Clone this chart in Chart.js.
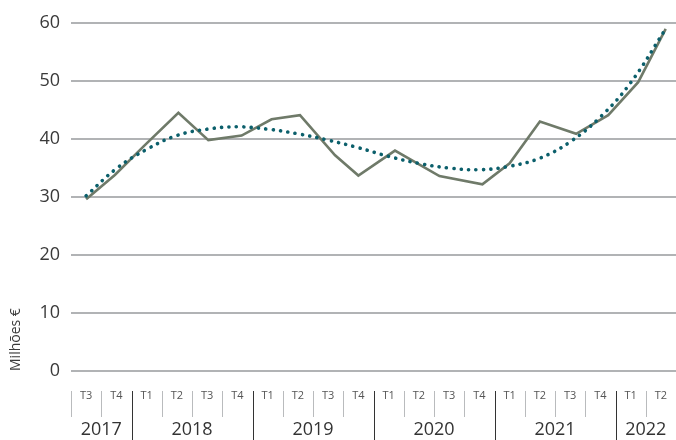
<!DOCTYPE html>
<html>
<head>
<meta charset="utf-8">
<script src="https://cdn.jsdelivr.net/npm/chart.js@4"></script>
<style>
  html, body { margin: 0; padding: 0; background: #fff; }
  #wrap { width: 676px; height: 440px; }
</style>
</head>
<body>
<div id="wrap"><canvas id="salesChart" width="676" height="440"></canvas></div>
<script>
// Quarter labels along the x axis and the years they belong to
const quarterLabels = ['T3', 'T4', 'T1', 'T2', 'T3', 'T4', 'T1', 'T2', 'T3', 'T4',
                       'T1', 'T2', 'T3', 'T4', 'T1', 'T2', 'T3', 'T4', 'T1', 'T2'];
const yearLabels = ['2017', '2018', '2019', '2020', '2021', '2022'];
const quartersPerYear = [2, 4, 4, 4, 4, 2];

// Solid series (position in quarters, value in millions)
const salesPos    = [0, 0.95, 1.95, 3.05, 4.04, 5.14, 6.13, 7.07, 8.23, 9.0,
                     10.21, 11.68, 13.1, 14.0, 15.0, 16.2, 17.26, 18.25, 19.16];
const salesValues = [29.6, 33.8, 39.0, 44.5, 39.8, 40.6, 43.4, 44.1, 37.2, 33.7,
                     38.0, 33.6, 32.2, 35.8, 43.0, 40.9, 44.1, 49.8, 59.0];

// Dotted trend
const trendPos    = [0, 1, 2, 3, 4, 5, 6, 7, 8, 9, 10, 11, 12, 13, 14, 15, 16, 17, 18, 19.16];
const trendValues = [30.2, 34.9, 38.2, 40.6, 41.7, 42.1, 41.7, 40.9, 39.8, 38.5,
                     37.0, 35.8, 35.0, 34.7, 35.3, 36.7, 39.5, 43.8, 49.7, 59.0];

const yTicks = [0, 10, 20, 30, 40, 50, 60];

const FONT = "'Open Sans', 'DejaVu Sans', sans-serif";

// Draws the quarter / year axis under the plot from the x scale
const quarterAxis = {
    id: 'quarterAxis',
    afterDraw(chart) {
        const ctx = chart.ctx;
        const x = chart.scales.x;
        const top = chart.chartArea.bottom;
        ctx.save();
        ctx.textAlign = 'center';
        ctx.textBaseline = 'middle';

        // quarter separators
        ctx.strokeStyle = '#b9bbbd';
        ctx.lineWidth = 1;
        for (let i = 0; i < quarterLabels.length; i++) {
            const px = Math.round(x.getPixelForValue(i - 0.5)) + 0.5;
            ctx.beginPath();
            ctx.moveTo(px, top + 20);
            ctx.lineTo(px, top + 46);
            ctx.stroke();
        }

        // quarter labels
        ctx.fillStyle = '#555';
        ctx.font = '11px ' + FONT;
        quarterLabels.forEach((q, i) => {
            ctx.fillText(q, x.getPixelForValue(i), top + 25);
        });

        // years
        let start = 0;
        ctx.font = '18px ' + FONT;
        yearLabels.forEach((yr, k) => {
            const end = start + quartersPerYear[k];
            ctx.fillStyle = '#333';
            ctx.fillText(yr, x.getPixelForValue((start + end - 1) / 2), top + 59);
            if (k > 0) {
                const px = Math.round(x.getPixelForValue(start - 0.5)) + 0.5;
                ctx.strokeStyle = '#333';
                ctx.beginPath();
                ctx.moveTo(px, top + 20);
                ctx.lineTo(px, chart.height);
                ctx.stroke();
            }
            start = end;
        });
        ctx.restore();
    }
};

const ctx = document.getElementById('salesChart').getContext('2d');
new Chart(ctx, {
    type: 'line',
    data: {
        datasets: [{
            label: 'Trend',
            data: trendPos.map((p, i) => ({ x: p, y: trendValues[i] })),
            borderColor: '#0b5f6b',
            borderWidth: 3.6,
            borderDash: [0.1, 7.3],
            borderCapStyle: 'round',
            tension: 0.4,
            pointRadius: 0,
            order: 0
        }, {
            label: 'Milhões €',
            data: salesPos.map((p, i) => ({ x: p, y: salesValues[i] })),
            borderColor: '#6f7a69',
            borderWidth: 2.6,
            borderJoinStyle: 'miter',
            tension: 0,
            pointRadius: 0,
            order: 1
        }]
    },
    options: {
        responsive: false,
        animation: false,
        layout: { padding: { top: 23, right: 0, bottom: 69, left: 0 } },
        plugins: { legend: { display: false }, tooltip: { enabled: false } },
        scales: {
            x: {
                type: 'linear',
                min: -0.5,
                max: 19.5,
                display: false
            },
            y: {
                min: 0,
                max: 60,
                afterBuildTicks: s => { s.ticks = yTicks.map(v => ({ value: v })); },
                afterFit: s => { s.width = 71; },
                border: { display: false },
                grid: { color: '#b1b3b5', lineWidth: 2, drawTicks: false },
                ticks: {
                    padding: 11,
                    color: '#3a3a3a',
                    font: { family: FONT, size: 18 }
                },
                title: {
                    display: true,
                    text: 'Milhões €',
                    align: 'start',
                    color: '#3a3a3a',
                    padding: { top: 8, bottom: 0 },
                    font: { family: FONT, size: 14 }
                }
            }
        }
    },
    plugins: [quarterAxis]
});
</script>
</body>
</html>
